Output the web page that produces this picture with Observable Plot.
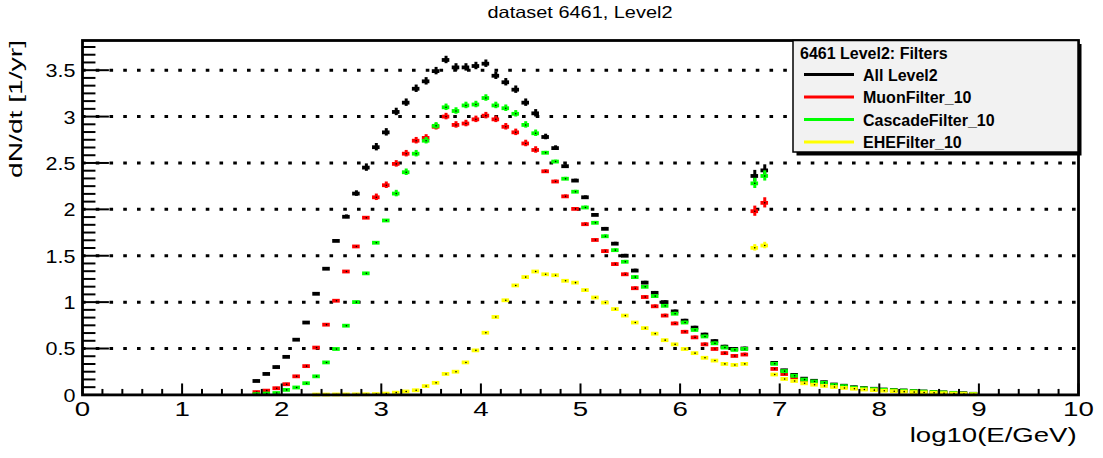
<!DOCTYPE html>
<html>
<head>
<meta charset="utf-8">
<script src="https://cdn.jsdelivr.net/npm/d3@7"></script>
<script src="https://cdn.jsdelivr.net/npm/@observablehq/plot@0.6"></script>
<style>
  html, body { margin: 0; padding: 0; background: #fff; }
  svg { display: block; }
</style>
</head>
<body>
<div id="chart"></div>
<script>
// Histogram bin centres, log10(E/GeV), bin width 0.1
const binCenters = [
  1.75, 1.85, 1.95, 2.05, 2.15, 2.25, 2.35, 2.45, 2.55, 2.65,
  2.75, 2.85, 2.95, 3.05, 3.15, 3.25, 3.35, 3.45, 3.55, 3.65,
  3.75, 3.85, 3.95, 4.05, 4.15, 4.25, 4.35, 4.45, 4.55, 4.65,
  4.75, 4.85, 4.95, 5.05, 5.15, 5.25, 5.35, 5.45, 5.55, 5.65,
  5.75, 5.85, 5.95, 6.05, 6.15, 6.25, 6.35, 6.45, 6.55, 6.65,
  6.75, 6.85, 6.95, 7.05, 7.15, 7.25, 7.35, 7.45, 7.55, 7.65,
  7.75, 7.85, 7.95, 8.05, 8.15, 8.25, 8.35, 8.45, 8.55, 8.65,
  8.75, 8.85, 8.95
];

// dN/dt [1/yr] per bin
const allLevel2 = [
  0.15, 0.226, 0.30, 0.41, 0.595, 0.78, 1.09, 1.36, 1.66, 1.92,
  2.17, 2.45, 2.67, 2.83, 3.05, 3.15, 3.30, 3.38, 3.49, 3.61,
  3.53, 3.53, 3.545, 3.57, 3.44, 3.37, 3.29, 3.15, 3.035, 2.78,
  2.66, 2.465, 2.31, 2.13, 1.94, 1.79, 1.63, 1.50, 1.34, 1.21,
  1.10, 1.00, 0.90, 0.80, 0.725, 0.65, 0.58, 0.52, 0.495, 0.50,
  2.36, 2.42, 0.345, 0.265, 0.215, 0.175, 0.152, 0.137, 0.112, 0.099,
  0.083, 0.074, 0.066, 0.058, 0.053, 0.048, 0.042, 0.037, 0.032, 0.027,
  0.022, 0.017, 0.012
];
const muonFilter = [
  0.03, 0.046, 0.072, 0.115, 0.20, 0.31, 0.51, 0.757, 1.015, 1.33,
  1.60, 1.91, 2.13, 2.26, 2.49, 2.60, 2.74, 2.77, 2.89, 3.00,
  2.91, 2.925, 2.97, 3.01, 2.97, 2.89, 2.83, 2.71, 2.64, 2.41,
  2.30, 2.14, 2.005, 1.84, 1.67, 1.55, 1.41, 1.30, 1.15, 1.055,
  0.955, 0.855, 0.77, 0.68, 0.62, 0.545, 0.495, 0.45, 0.42, 0.435,
  1.98, 2.07, 0.28, 0.225, 0.19, 0.155, 0.135, 0.12, 0.10, 0.088,
  0.074, 0.066, 0.058, 0.052, 0.047, 0.042, 0.037, 0.032, 0.028, 0.023,
  0.019, 0.014, 0.01
];
const cascadeFilter = [
  0.008, 0.015, 0.02, 0.054, 0.08, 0.126, 0.20, 0.35, 0.495, 0.746,
  1.00, 1.31, 1.64, 1.88, 2.17, 2.40, 2.60, 2.74, 2.90, 3.10,
  3.06, 3.12, 3.13, 3.20, 3.12, 3.09, 3.03, 2.91, 2.82, 2.61,
  2.515, 2.33, 2.19, 2.02, 1.855, 1.71, 1.56, 1.435, 1.27, 1.165,
  1.065, 0.96, 0.875, 0.78, 0.70, 0.63, 0.556, 0.51, 0.485, 0.495,
  2.28, 2.36, 0.335, 0.256, 0.206, 0.165, 0.145, 0.13, 0.106, 0.094,
  0.078, 0.07, 0.062, 0.055, 0.05, 0.045, 0.04, 0.035, 0.03, 0.026,
  0.02, 0.015, 0.01
];
const eheFilter = [
  null, null, null, null, null, null, 0.004, 0.004, 0.005, 0.005,
  0.006, 0.007, 0.009, 0.014, 0.024, 0.037, 0.05, 0.095, 0.13, 0.226,
  0.25, 0.35, 0.48, 0.67, 0.84, 1.02, 1.18, 1.27, 1.33, 1.30,
  1.29, 1.23, 1.21, 1.13, 1.05, 0.995, 0.925, 0.855, 0.78, 0.72,
  0.66, 0.59, 0.545, 0.495, 0.45, 0.40, 0.37, 0.334, 0.323, 0.334,
  1.585, 1.61, 0.22, 0.172, 0.15, 0.125, 0.11, 0.097, 0.085, 0.075,
  0.066, 0.058, 0.051, 0.045, 0.04, 0.035, 0.03, 0.026, 0.022, 0.018,
  0.014, 0.01, 0.007
];

// Statistical uncertainty per bin
const allLevel2Err = [
  0.01, 0.01, 0.01, 0.01, 0.01, 0.01, 0.01, 0.01, 0.01, 0.02,
  0.03, 0.04, 0.04, 0.04, 0.04, 0.04, 0.04, 0.04, 0.04, 0.04,
  0.04, 0.04, 0.04, 0.04, 0.04, 0.04, 0.04, 0.04, 0.04, 0.03,
  0.025, 0.015, 0.015, 0.015, 0.015, 0.015, 0.015, 0.015, 0.015, 0.015,
  0.015, 0.015, 0.015, 0.015, 0.015, 0.015, 0.015, 0.015, 0.015, 0.015,
  0.06, 0.06, 0.01, 0.01, 0.01, 0.01, 0.01, 0.01, 0.01, 0.01,
  0.01, 0.01, 0.01, 0.01, 0.01, 0.01, 0.01, 0.01, 0.01, 0.01,
  0.01, 0.01, 0.01
];
const muonFilterErr = [
  0.01, 0.01, 0.01, 0.01, 0.01, 0.01, 0.01, 0.01, 0.01, 0.01,
  0.01, 0.01, 0.035, 0.035, 0.035, 0.035, 0.035, 0.035, 0.035, 0.035,
  0.035, 0.035, 0.035, 0.035, 0.035, 0.035, 0.035, 0.035, 0.035, 0.015,
  0.015, 0.015, 0.015, 0.015, 0.015, 0.015, 0.015, 0.015, 0.015, 0.015,
  0.015, 0.015, 0.015, 0.015, 0.015, 0.015, 0.015, 0.015, 0.015, 0.015,
  0.055, 0.055, 0.01, 0.01, 0.01, 0.01, 0.01, 0.01, 0.01, 0.01,
  0.01, 0.01, 0.01, 0.01, 0.01, 0.01, 0.01, 0.01, 0.01, 0.01,
  0.01, 0.01, 0.01
];
const cascadeFilterErr = [
  0.01, 0.01, 0.01, 0.01, 0.01, 0.01, 0.01, 0.01, 0.01, 0.01,
  0.01, 0.01, 0.01, 0.01, 0.035, 0.035, 0.035, 0.035, 0.035, 0.035,
  0.035, 0.035, 0.035, 0.035, 0.035, 0.035, 0.035, 0.035, 0.035, 0.015,
  0.015, 0.015, 0.015, 0.015, 0.015, 0.015, 0.015, 0.015, 0.015, 0.015,
  0.015, 0.015, 0.015, 0.015, 0.015, 0.015, 0.015, 0.015, 0.015, 0.015,
  0.055, 0.055, 0.01, 0.01, 0.01, 0.01, 0.01, 0.01, 0.01, 0.01,
  0.01, 0.01, 0.01, 0.01, 0.01, 0.01, 0.01, 0.01, 0.01, 0.01,
  0.01, 0.01, 0.01
];
const eheFilterErr = [
  null, null, null, null, null, null, 0.003, 0.003, 0.003, 0.003,
  0.004, 0.004, 0.005, 0.006, 0.008, 0.01, 0.01, 0.01, 0.01, 0.01,
  0.01, 0.01, 0.01, 0.01, 0.01, 0.01, 0.01, 0.01, 0.01, 0.01,
  0.01, 0.01, 0.01, 0.01, 0.01, 0.01, 0.01, 0.01, 0.01, 0.01,
  0.01, 0.01, 0.01, 0.01, 0.01, 0.01, 0.01, 0.01, 0.01, 0.01,
  0.035, 0.035, 0.01, 0.01, 0.01, 0.01, 0.01, 0.01, 0.01, 0.01,
  0.01, 0.01, 0.01, 0.01, 0.01, 0.01, 0.01, 0.01, 0.01, 0.01,
  0.01, 0.01, 0.01
];

const seriesNames = ["All Level2", "MuonFilter_10", "CascadeFilter_10", "EHEFilter_10"];
const seriesColors = ["#000000", "#ff0000", "#00ff00", "#ffff00"];
const seriesValues = [allLevel2, muonFilter, cascadeFilter, eheFilter];
const seriesErrors = [allLevel2Err, muonFilterErr, cascadeFilterErr, eheFilterErr];

const xTickValues = [0, 1, 2, 3, 4, 5, 6, 7, 8, 9, 10];
const xTickLabels = ["0", "1", "2", "3", "4", "5", "6", "7", "8", "9", "10"];
const yTickValues = [0, 0.5, 1, 1.5, 2, 2.5, 3, 3.5];
const yTickLabels = ["0", "0.5", "1", "1.5", "2", "2.5", "3", "3.5"];

const titleText = "dataset 6461, Level2";
const xTitle = "log10(E/GeV)";
const yTitle = "dN/dt [1/yr]";
const legendTitle = "6461 Level2: Filters";

const FONT = "'Liberation Sans', Arial, Helvetica, sans-serif";
const halfBar = 0.038;   // half length of the horizontal bin marker
const Y_LABEL_SIZE = 18.7;
const X_LABEL_SIZE = 20.5;

// minor tick positions
const xMinor = d3.range(0, 10.001, 0.2).filter(v => Math.abs(v - Math.round(v)) > 1e-6);
const yMinor = d3.range(0, 46).map(k => k / 12).filter(v => Math.abs(v * 2 - Math.round(v * 2)) > 1e-6);

// one row per filled bin per series
const seriesRows = seriesValues.map((vals, s) =>
  binCenters.map((c, i) => ({c, v: vals[i], e: seriesErrors[s][i]})).filter(d => d.v != null)
);

const dataMarks = seriesRows.flatMap((rows, s) => [
  Plot.ruleX(rows, {x: "c", y1: d => d.v - d.e, y2: d => d.v + d.e, stroke: seriesColors[s], strokeWidth: 3}),
  Plot.ruleY(rows, {y: "v", x1: d => d.c - halfBar, x2: d => d.c + halfBar, stroke: seriesColors[s], strokeWidth: 3.8}),
  Plot.dot(rows, {x: "c", y: "v", r: 0.8, fill: "black", stroke: null})
]);

const svg = Plot.plot({
  width: 1103,
  height: 458,
  marginLeft: 82,
  marginRight: 25,
  marginTop: 40,
  marginBottom: 63.6,
  x: {domain: [0, 10], axis: null},
  y: {domain: [0, 3.82], axis: null},
  style: {fontFamily: FONT, background: "white", color: "black"},
  marks: [
    // dotted horizontal grid
    Plot.ruleY(yTickValues.filter(v => v > 0), {stroke: "black", strokeWidth: 3, strokeDasharray: "3.6,10.15"}),
    ...dataMarks,
    // axis ticks (drawn inward)
    Plot.ruleY(yTickValues, {x1: 0, x2: 0.27, stroke: "black", strokeWidth: 2}),
    Plot.ruleY(yMinor, {x1: 0, x2: 0.135, stroke: "black", strokeWidth: 2}),
    Plot.ruleX(xTickValues, {y1: 0, y2: 0.118, stroke: "black", strokeWidth: 2}),
    Plot.ruleX(xMinor, {y1: 0, y2: 0.059, stroke: "black", strokeWidth: 2}),
    Plot.frame({stroke: "black", strokeWidth: 2.8}),
    // tick labels
    Plot.text(yTickValues, {x: 0, y: d => d, text: (d, i) => yTickLabels[i], textAnchor: "end", dx: -7, dy: 1,
      fontSize: Y_LABEL_SIZE, fill: "black"}),
    Plot.text(xTickValues, {x: d => d, y: 0, text: (d, i) => xTickLabels[i], textAnchor: "middle", lineAnchor: "top", dy: 6.6,
      fontSize: X_LABEL_SIZE, fill: "black"})
  ]
});

document.getElementById("chart").appendChild(svg);

// widen the tick labels horizontally
function stretch(nodes, k) {
  nodes.forEach(t => {
    const w = t.getComputedTextLength();
    t.setAttribute("textLength", (w * k).toFixed(1));
    t.setAttribute("lengthAdjust", "spacingAndGlyphs");
  });
}
svg.querySelectorAll("g").forEach(g => {
  const fs = parseFloat(g.getAttribute("font-size"));
  if (fs === Y_LABEL_SIZE) stretch(g.querySelectorAll("text"), 1.15);
  else if (fs === X_LABEL_SIZE) stretch(g.querySelectorAll("text"), 1.35);
});

const root = d3.select(svg);

// title
root.append("text")
  .attr("x", 580).attr("y", 18.3)
  .attr("text-anchor", "middle")
  .attr("font-size", 16.5)
  .attr("fill", "black")
  .attr("textLength", 185).attr("lengthAdjust", "spacingAndGlyphs")
  .text(titleText);

// axis titles
root.append("text")
  .attr("x", 1076.7).attr("y", 441.7)
  .attr("text-anchor", "end")
  .attr("font-size", 20.5)
  .attr("fill", "black")
  .attr("textLength", 167).attr("lengthAdjust", "spacingAndGlyphs")
  .text(xTitle);

root.append("text")
  .attr("transform", "translate(21.7,40) rotate(-90)")
  .attr("text-anchor", "end")
  .attr("font-size", 18.6)
  .attr("fill", "black")
  .attr("textLength", 138).attr("lengthAdjust", "spacingAndGlyphs")
  .text(yTitle);

// legend box with drop shadow
const lg = root.append("g").attr("text-anchor", "start");
lg.append("rect").attr("x", 796.5).attr("y", 44).attr("width", 285).attr("height", 111.5).attr("fill", "black");
lg.append("rect").attr("x", 793).attr("y", 40.5).attr("width", 285).attr("height", 111.5)
  .attr("fill", "#f2f2f2").attr("stroke", "black").attr("stroke-width", 1.5);
lg.append("text").attr("x", 800).attr("y", 58.5)
  .attr("text-anchor", "start")
  .attr("font-size", 16).attr("font-weight", "bold").attr("fill", "black")
  .text(legendTitle);
seriesNames.forEach((name, i) => {
  const y = 74.5 + 22.5 * i;
  lg.append("line").attr("x1", 804).attr("x2", 854).attr("y1", y).attr("y2", y)
    .attr("stroke", seriesColors[i]).attr("stroke-width", 3);
  lg.append("text").attr("x", 863).attr("y", y + 6)
    .attr("text-anchor", "start")
    .attr("font-size", 16).attr("font-weight", "bold").attr("fill", "black")
    .text(name);
});
</script>
</body>
</html>
